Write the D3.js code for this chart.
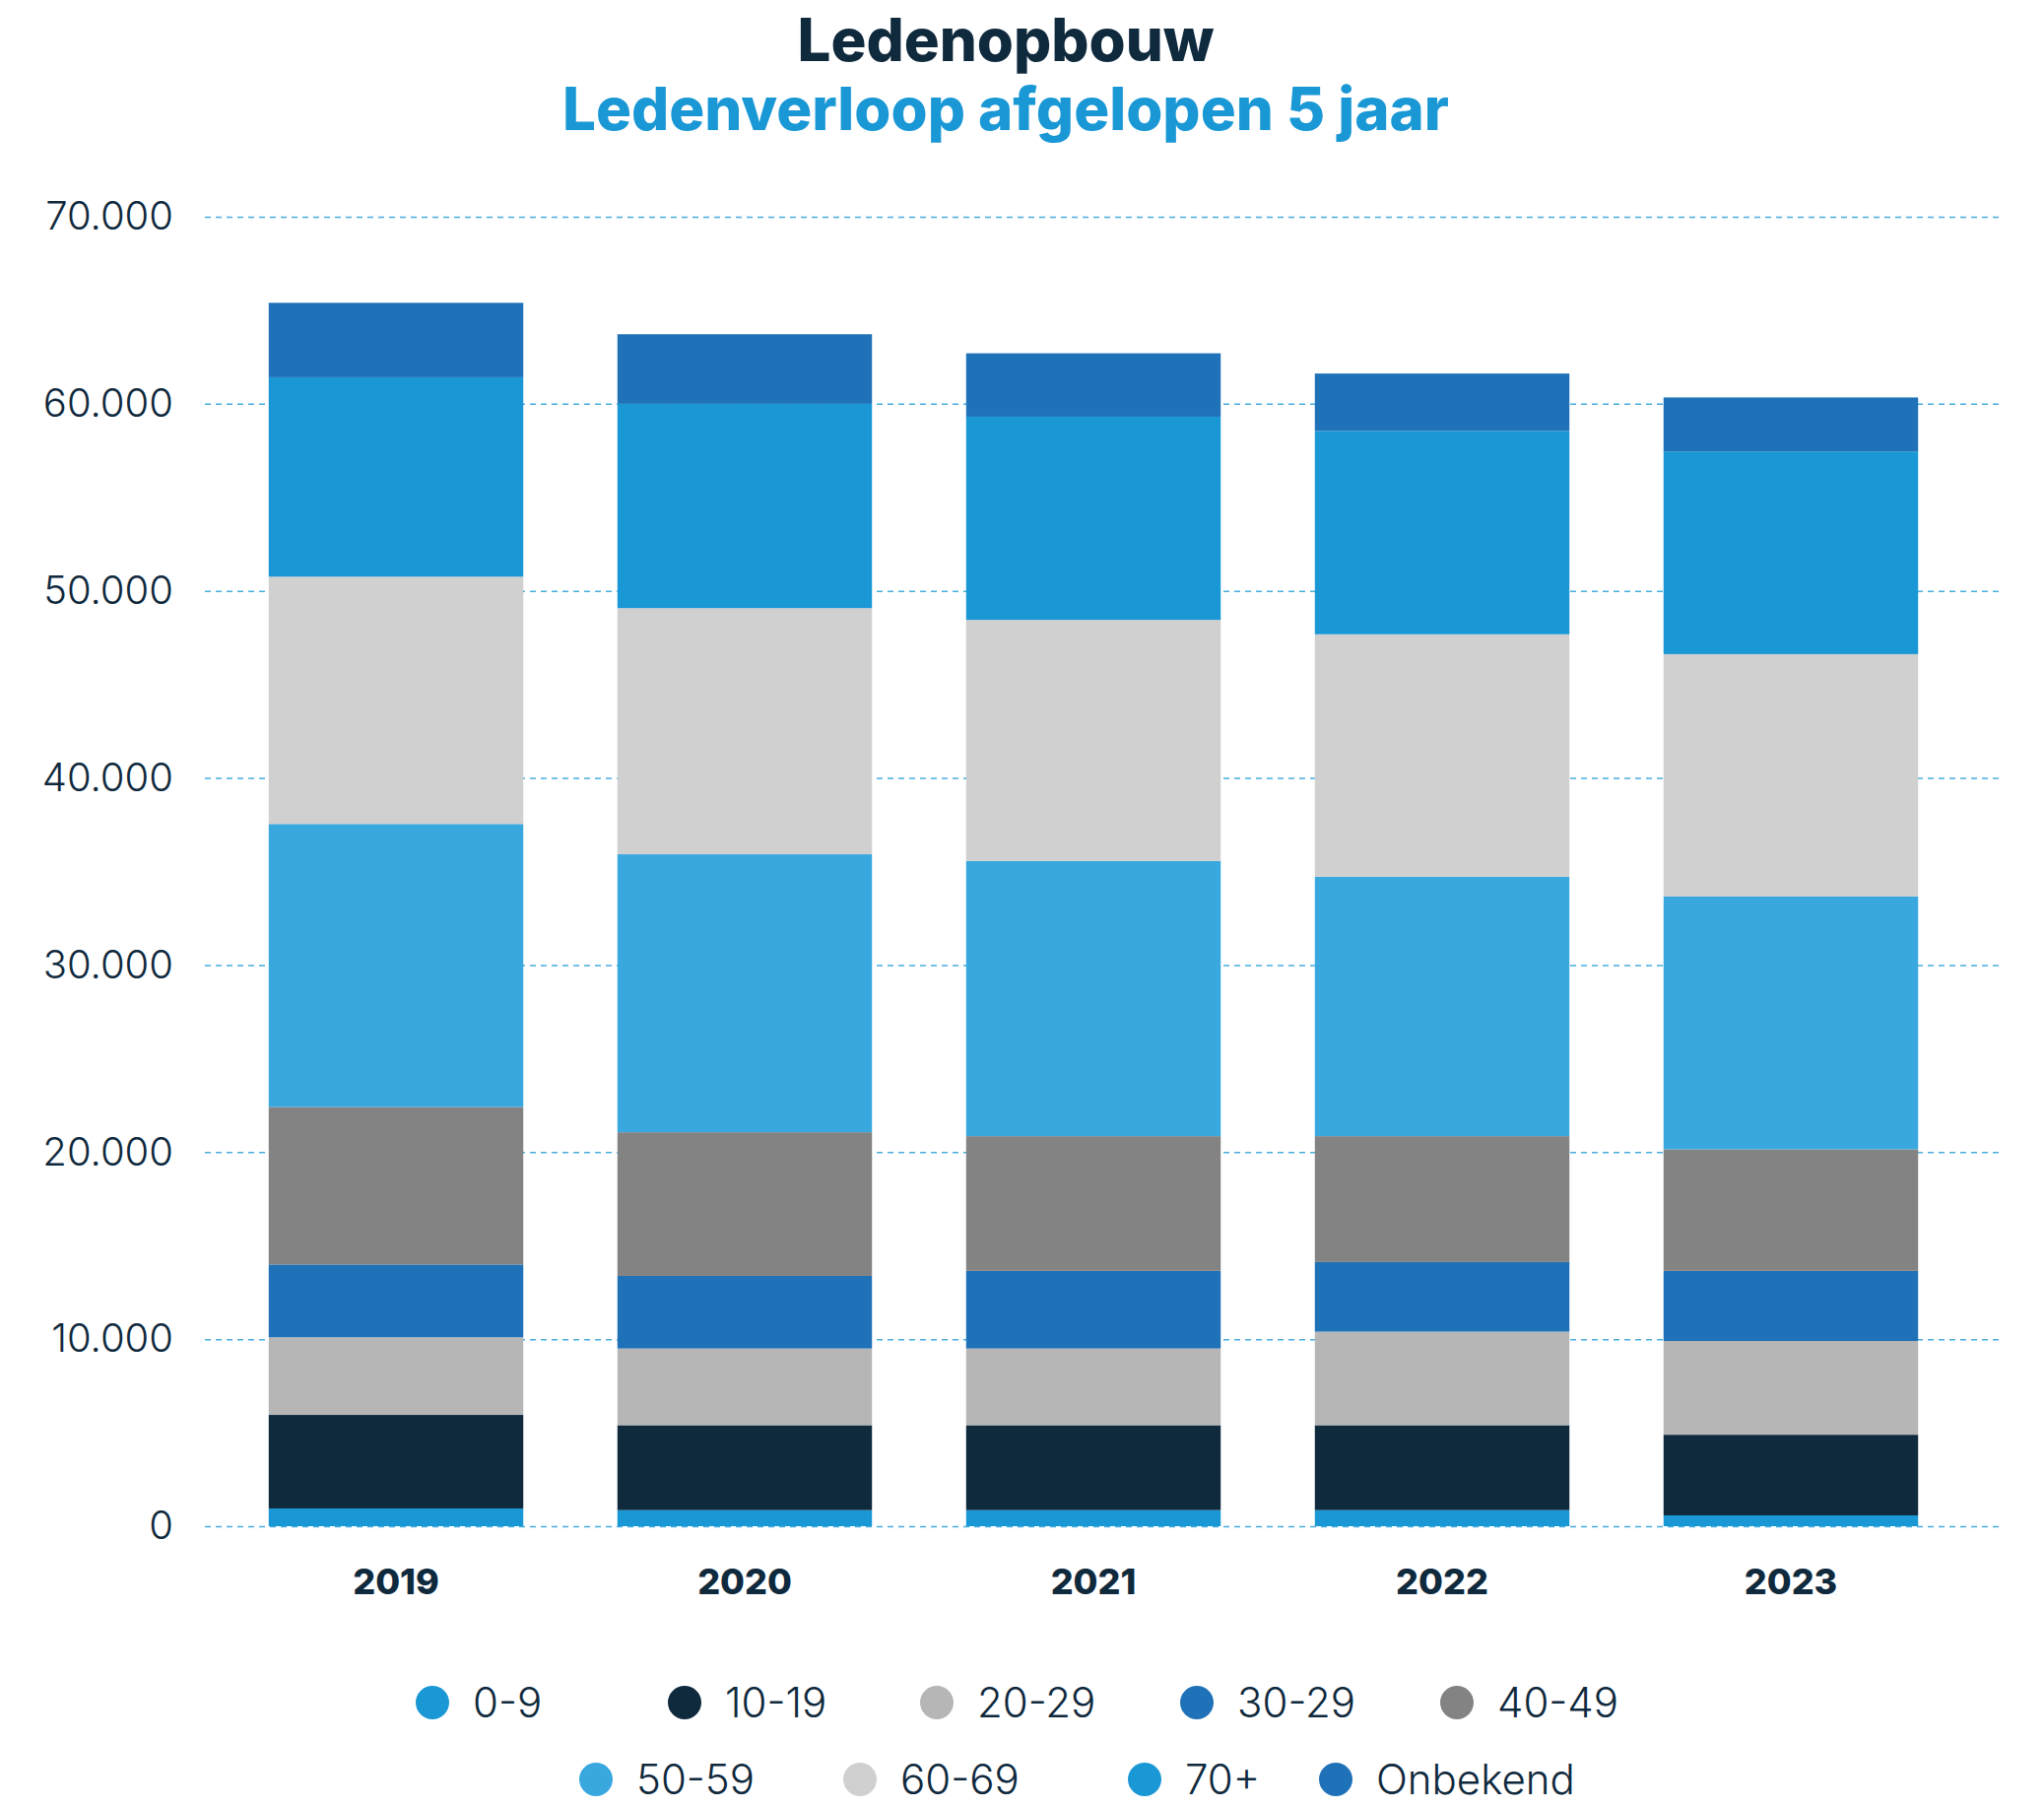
<!DOCTYPE html>
<html>
<head>
<meta charset="utf-8">
<script src="https://cdn.jsdelivr.net/npm/d3@7"></script>
<style>
  body { margin: 0; background: #fff; }
  text { font-family: Inter, "Open Sans", sans-serif; }
</style>
</head>
<body>
<div class="chart"></div>
<script>
// data
var years = ["2019", "2020", "2021", "2022", "2023"];
var groups = ["0-9", "10-19", "20-29", "30-29", "40-49", "50-59", "60-69", "70+", "Onbekend"];
var colors = ["#1a98d5", "#0f293d", "#b6b6b6", "#1f71b8", "#838383", "#38a8df", "#d0d0d0", "#1a98d5", "#1f71b8"];

// members per age group, one array per group (2019..2023)
var g0_9    = [950, 860, 860, 860, 580];
var g10_19  = [5000, 4540, 4540, 4540, 4310];
var g20_29  = [4150, 4100, 4100, 5000, 5010];
var g30_29  = [3890, 3880, 4150, 3720, 3750];
var g40_49  = [8420, 7680, 7200, 6730, 6500];
var g50_59  = [15130, 14860, 14710, 13870, 13510];
var g60_69  = [13220, 13160, 12890, 12960, 12960];
var g70plus = [10660, 10920, 10860, 10870, 10830];
var onbekend = [3980, 3720, 3390, 3070, 2890];

var yTicks = [0, 10000, 20000, 30000, 40000, 50000, 60000, 70000];

var series = [g0_9, g10_19, g20_29, g30_29, g40_49, g50_59, g60_69, g70plus, onbekend];

var w = 2075;
var h = 1835;

// build table for d3.stack
var table = years.map(function(y, i) {
    var row = { year: y };
    groups.forEach(function(g, j) { row[g] = series[j][i]; });
    return row;
});

var stacked = d3.stack().keys(groups)(table);

var xScale = d3.scaleBand()
    .domain(years)
    .range([225, 1995])
    .paddingInner(0.27)
    .paddingOuter(0.135);

var yScale = d3.scaleLinear()
    .domain([0, 70000])
    .range([1549, 220]);

var svg = d3.select(".chart")
    .append("svg")
    .attr("width", w)
    .attr("height", h);

// titles
svg.append("text")
    .attr("x", 1021)
    .attr("y", 62)
    .attr("text-anchor", "middle")
    .attr("font-size", "60px")
    .attr("font-weight", 800)
    .attr("fill", "#0f293d")
    .text("Ledenopbouw");

svg.append("text")
    .attr("x", 1021)
    .attr("y", 132)
    .attr("text-anchor", "middle")
    .attr("font-size", "60px")
    .attr("font-weight", 800)
    .attr("fill", "#1a98d5")
    .text("Ledenverloop afgelopen 5 jaar");

// gridlines
var fmt = function(d) { return d3.format(",")(d).replace(/,/g, "."); };

var yaxis = d3.axisLeft(yScale)
    .tickValues(yTicks)
    .tickSize(-(2029 - 208))
    .tickPadding(32)
    .tickFormat(fmt);

var gy = svg.append("g")
    .attr("class", "y axis")
    .attr("transform", "translate(208,0)")
    .call(yaxis);

gy.select(".domain").remove();
gy.selectAll(".tick line")
    .attr("stroke", "#1a98d5")
    .attr("stroke-opacity", 0.8)
    .attr("stroke-width", 1.5)
    .attr("stroke-dasharray", "6,5");
gy.selectAll(".tick text")
    .attr("font-size", "40px")
    .attr("font-weight", 300)
    .attr("fill", "#0f293d")
    .attr("font-family", "Inter, sans-serif");

// bars
svg.append("g")
    .selectAll("g")
    .data(stacked)
    .enter()
    .append("g")
    .attr("fill", function(d, i) { return colors[i]; })
    .selectAll("rect")
    .data(function(d) { return d; })
    .enter()
    .append("rect")
    .attr("x", function(d) { return xScale(d.data.year); })
    .attr("y", function(d) { return yScale(d[1]); })
    .attr("width", xScale.bandwidth())
    .attr("height", function(d) { return yScale(d[0]) - yScale(d[1]); });

// x labels
var xaxis = d3.axisBottom(xScale).tickSize(0).tickPadding(43);
var gx = svg.append("g")
    .attr("class", "x axis")
    .attr("transform", "translate(0,1549)")
    .call(xaxis);
gx.select(".domain").remove();
gx.selectAll(".tick text")
    .attr("font-size", "36px")
    .attr("font-weight", 800)
    .attr("fill", "#0f293d")
    .attr("font-family", "Inter, sans-serif");

// legend
var legendRows = [[0, 1, 2, 3, 4], [5, 6, 7, 8]];
var legendX = [[439, 695, 951, 1215, 1479], [605, 873, 1162, 1356]];
var legendY = [1728, 1806];

legendRows.forEach(function(row, r) {
    var lg = svg.append("g").attr("class", "legend");
    var item = lg.selectAll("g")
        .data(row)
        .enter()
        .append("g")
        .attr("transform", function(d, i) {
            return "translate(" + legendX[r][i] + "," + legendY[r] + ")";
        });
    item.append("circle")
        .attr("r", 17)
        .attr("fill", function(d) { return colors[d]; });
    item.append("text")
        .attr("x", 41)
        .attr("dy", "0.35em")
        .attr("font-size", "42px")
        .attr("font-weight", 300)
        .attr("fill", "#0f293d")
        .text(function(d) { return groups[d]; });
});
</script>
</body>
</html>
